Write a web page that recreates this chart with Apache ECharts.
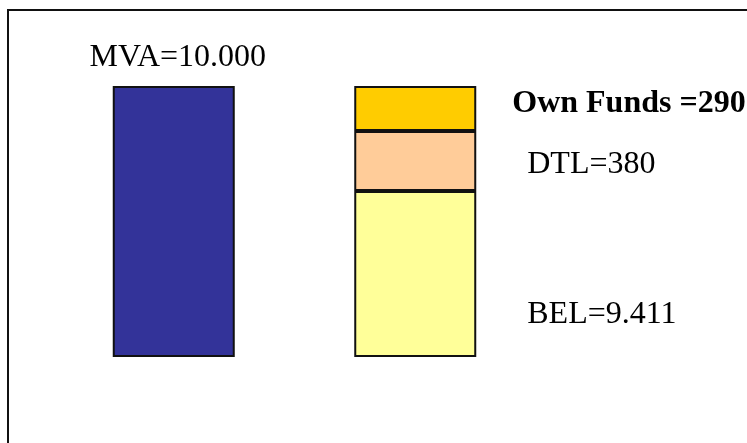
<!DOCTYPE html>
<html>
<head>
<meta charset="utf-8">
<script src="https://cdn.jsdelivr.net/npm/echarts@6/dist/echarts.min.js"></script>
<style>
  html, body { margin: 0; padding: 0; background: #fff; }
  #chart { width: 747px; height: 443px; }
</style>
</head>
<body>
<div id="chart"></div>
<script>
// columns
let columns = ['Assets', 'Liabilities'];
// drawn bar heights, in % of the full column (the picture is a schematic, not to scale)
let mvaHeight = [100, '-'];
let belHeight = ['-', 61.3];
let dtlHeight = ['-', 22.1];
let ownFundsHeight = ['-', 16.6];
// label texts as shown
let mvaText = 'MVA=10.000';
let belText = 'BEL=9.411';
let dtlText = 'DTL=380';
let ownFundsText = 'Own Funds =290';

const font = 'Liberation Serif, Times New Roman, serif';

const chart = echarts.init(document.getElementById('chart'), null, { renderer: 'canvas' });

function barStyle(color) {
    return { color: color, borderColor: '#111', borderWidth: 2 };
}

chart.setOption({
    animation: false,
    backgroundColor: '#ffffff',
    graphic: [{
        type: 'rect',
        shape: { x: 8, y: 10, width: 800, height: 500 },
        style: { fill: 'none', stroke: '#111', lineWidth: 2 },
        silent: true
    }],
    grid: { left: 53, right: 211, top: 86, bottom: 86 },
    xAxis: {
        type: 'category',
        data: columns,
        show: false
    },
    yAxis: {
        type: 'value',
        min: 0,
        max: 100,
        show: false
    },
    series: [{
            name: 'MVA',
            type: 'bar',
            stack: 'all',
            barWidth: 122,
            data: mvaHeight,
            itemStyle: barStyle('#333399'),
            label: {
                show: true,
                position: 'top',
                distance: 12,
                offset: [4, 0],
                formatter: mvaText,
                fontFamily: font,
                fontSize: 32,
                color: '#000'
            }
        },
        {
            name: 'BEL',
            type: 'bar',
            stack: 'all',
            barWidth: 122,
            data: belHeight,
            itemStyle: barStyle('#FFFF99'),
            label: {
                show: true,
                position: 'right',
                distance: 51,
                offset: [0, 41],
                formatter: belText,
                fontFamily: font,
                fontSize: 32,
                color: '#000'
            }
        },
        {
            name: 'DTL',
            type: 'bar',
            stack: 'all',
            barWidth: 122,
            data: dtlHeight,
            itemStyle: barStyle('#FFCC99'),
            label: {
                show: true,
                position: 'right',
                distance: 51,
                offset: [0, 4],
                formatter: dtlText,
                fontFamily: font,
                fontSize: 32,
                color: '#000'
            }
        },
        {
            name: 'Own Funds',
            type: 'bar',
            stack: 'all',
            barWidth: 122,
            data: ownFundsHeight,
            itemStyle: barStyle('#FFCC00'),
            label: {
                show: true,
                position: 'right',
                distance: 36,
                offset: [0, -5],
                formatter: ownFundsText,
                fontFamily: font,
                fontSize: 32,
                fontWeight: 'bold',
                color: '#000'
            }
        }
    ]
});
</script>
</body>
</html>
